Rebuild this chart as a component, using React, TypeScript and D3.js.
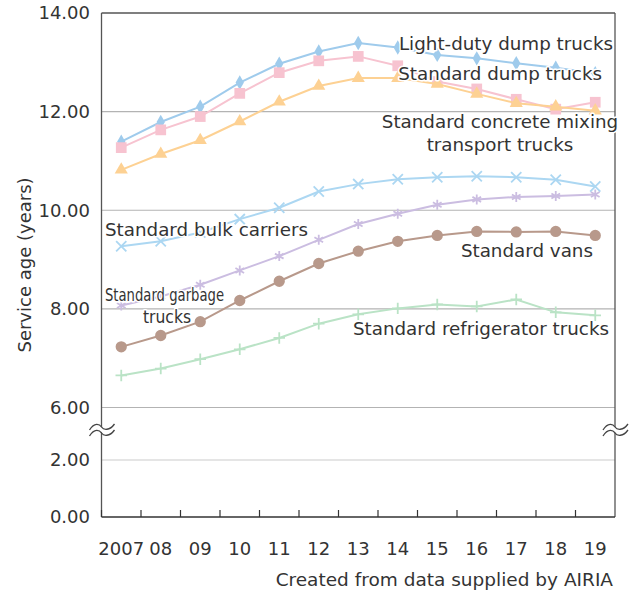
import React from "react";
import * as d3 from "d3";

const years = ["2007", "08", "09", "10", "11", "12", "13", "14", "15", "16", "17", "18", "19"];
const yTicks = [0, 2, 6, 8, 10, 12, 14];

const lightDutyDump = [11.39, 11.79, 12.1, 12.59, 12.97, 13.22, 13.39, 13.3, 13.15, 13.08, 12.98, 12.89, 12.78];
const standardDump = [11.27, 11.63, 11.9, 12.37, 12.79, 13.03, 13.12, 12.93, 12.61, 12.46, 12.25, 12.05, 12.19];
const concreteMixing = [10.82, 11.14, 11.42, 11.8, 12.2, 12.52, 12.68, 12.68, 12.56, 12.36, 12.17, 12.1, 12.02];
const bulkCarriers = [9.27, 9.37, 9.55, 9.82, 10.05, 10.38, 10.53, 10.63, 10.67, 10.69, 10.67, 10.62, 10.48];
const garbageTrucks = [8.07, 8.25, 8.49, 8.78, 9.07, 9.4, 9.72, 9.93, 10.11, 10.22, 10.27, 10.29, 10.32];
const vans = [7.23, 7.46, 7.74, 8.17, 8.56, 8.92, 9.17, 9.37, 9.49, 9.57, 9.56, 9.57, 9.49];
const refrigerator = [6.65, 6.79, 6.98, 7.18, 7.41, 7.7, 7.89, 8.01, 8.09, 8.05, 8.19, 7.93, 7.87];

const series = [
  { name: "Light-duty dump trucks", values: lightDutyDump, color: "#9fcbec", symbol: d3.symbolDiamond, size: 60, filled: true },
  { name: "Standard dump trucks", values: standardDump, color: "#f7c3d0", symbol: d3.symbolSquare, size: 115, filled: true },
  { name: "Standard concrete mixing transport trucks", values: concreteMixing, color: "#fdd193", symbol: d3.symbolTriangle, size: 75, filled: true },
  { name: "Standard bulk carriers", values: bulkCarriers, color: "#acd7f2", symbol: d3.symbolTimes, size: 70, filled: false },
  { name: "Standard garbage trucks", values: garbageTrucks, color: "#cbbde1", symbol: d3.symbolAsterisk, size: 70, filled: false },
  { name: "Standard vans", values: vans, color: "#b8998b", symbol: d3.symbolCircle, size: 100, filled: true },
  { name: "Standard refrigerator trucks", values: refrigerator, color: "#bae3c6", symbol: d3.symbolPlus, size: 45, filled: false },
];

const FONT = "'DejaVu Sans', Verdana, sans-serif";
const TEXT = "#333333";

export default function App() {
  const W = 631;
  const H = 590;
  const left = 101.5;
  const right = 615;
  const top = 13;
  const bottom = 517;

  const x = d3.scaleBand<string>().domain(years).range([left, right]).padding(0);
  const cx = (i: number) => (x(years[i]) as number) + x.bandwidth() / 2;
  const y = d3.scaleLinear().domain([0, 2, 6, 14]).range([bottom, 460, 407.5, top]);

  const line = d3
    .line<number>()
    .x((_, i) => cx(i))
    .y((v) => y(v));

  const breakY = 432;
  const wave = (x0: number, yy: number) =>
    `M${x0 - 12},${yy + 3} C${x0 - 7},${yy - 5} ${x0 - 2},${yy - 3} ${x0},${yy} S${x0 + 8},${yy + 4} ${x0 + 13},${yy - 3}`;

  const breakMark = (x0: number) => (
    <g key={x0}>
      <path
        d={`M${x0 - 12},${breakY - 2} C${x0 - 7},${breakY - 10} ${x0 - 2},${breakY - 8} ${x0},${breakY - 5} S${x0 + 8},${breakY - 1} ${x0 + 13},${breakY - 8} L${x0 + 13},${breakY - 1} C${x0 + 8},${breakY + 6} ${x0 + 2},${breakY + 2} ${x0},${breakY} S${x0 - 7},${breakY - 3} ${x0 - 12},${breakY + 4} Z`}
        fill="#ffffff"
      />
      <path d={wave(x0, breakY - 5)} fill="none" stroke="#444" strokeWidth={1.3} />
      <path d={wave(x0, breakY + 1)} fill="none" stroke="#444" strokeWidth={1.3} />
    </g>
  );

  const halo = { stroke: "#ffffff", strokeWidth: 3, paintOrder: "stroke" as const, strokeLinejoin: "round" as const };

  return (
    <svg width={W} height={H} style={{ position: "absolute", left: 0, top: 0 }} fontFamily={FONT}>
      <rect x={0} y={0} width={W} height={H} fill="#fff" />
      {/* gridlines */}
      {yTicks
        .filter((t) => t !== 0 && t !== 14)
        .map((t) => (
          <line key={t} x1={left} x2={right} y1={y(t)} y2={y(t)} stroke={t === 2 ? "#cccccc" : "#b3b3b3"} strokeWidth={1.2} />
        ))}
      {/* frame */}
      <line x1={left} x2={right} y1={top} y2={top} stroke="#555" strokeWidth={1.3} />
      <line x1={right} x2={right} y1={top} y2={bottom} stroke="#555" strokeWidth={1.3} />
      <line x1={left} x2={left} y1={top} y2={bottom} stroke="#555" strokeWidth={1.3} />
      <line x1={left} x2={right} y1={bottom} y2={bottom} stroke="#333" strokeWidth={1.5} />
      {/* x ticks */}
      {years.map((yr) => (
        <line key={yr} x1={x(yr) as number} x2={x(yr) as number} y1={bottom} y2={bottom - 7} stroke="#333" strokeWidth={1.2} />
      ))}
      {/* y tick labels */}
      {yTicks.map((t) => (
        <text key={t} x={90} y={y(t)} dy="0.36em" textAnchor="end" fontSize={18} fill={TEXT}>
          {t.toFixed(2)}
        </text>
      ))}
      {/* x labels */}
      {years.map((yr, i) => (
        <text key={yr} x={cx(i)} y={555} textAnchor="middle" fontSize={18} fill={TEXT}>
          {yr}
        </text>
      ))}
      {/* break marks */}
      {breakMark(left)}
      {breakMark(right)}
      {/* series */}
      {series.map((s) => (
        <g key={s.name}>
          <path d={line(s.values) || ""} fill="none" stroke={s.color} strokeWidth={2} />
          {s.values.map((v, i) => (
            <path
              key={i}
              transform={`translate(${cx(i)},${y(v)})`}
              d={d3.symbol(s.symbol, s.size)() || ""}
              fill={s.filled ? s.color : "none"}
              stroke={s.color}
              strokeWidth={s.filled ? 0 : 1.8}
            />
          ))}
        </g>
      ))}
      {/* series labels */}
      <g fontSize={18.3} fill={TEXT} {...halo}>
        <text x={613} y={50} textAnchor="end">Light-duty dump trucks</text>
        <text x={602} y={80} textAnchor="end">Standard dump trucks</text>
        <text x={500} y={128} textAnchor="middle">Standard concrete mixing</text>
        <text x={500} y={151} textAnchor="middle">transport trucks</text>
        <text x={105} y={236}>Standard bulk carriers</text>
        <text x={593} y={257} textAnchor="end">Standard vans</text>
        <text x={609} y={335} textAnchor="end">Standard refrigerator trucks</text>
        <text x={105} y={301} fontSize={17} textLength={119} lengthAdjust="spacingAndGlyphs">Standard garbage</text>
        <text x={167} y={323} fontSize={17} textAnchor="middle" textLength={48} lengthAdjust="spacingAndGlyphs">trucks</text>
      </g>
      {/* axis title */}
      <text transform={`translate(31,265) rotate(-90)`} textAnchor="middle" fontSize={18} fill={TEXT}>
        Service age (years)
      </text>
      <text x={613} y={586} textAnchor="end" fontSize={18.5} fill={TEXT}>
        Created from data supplied by AIRIA
      </text>
    </svg>
  );
}
